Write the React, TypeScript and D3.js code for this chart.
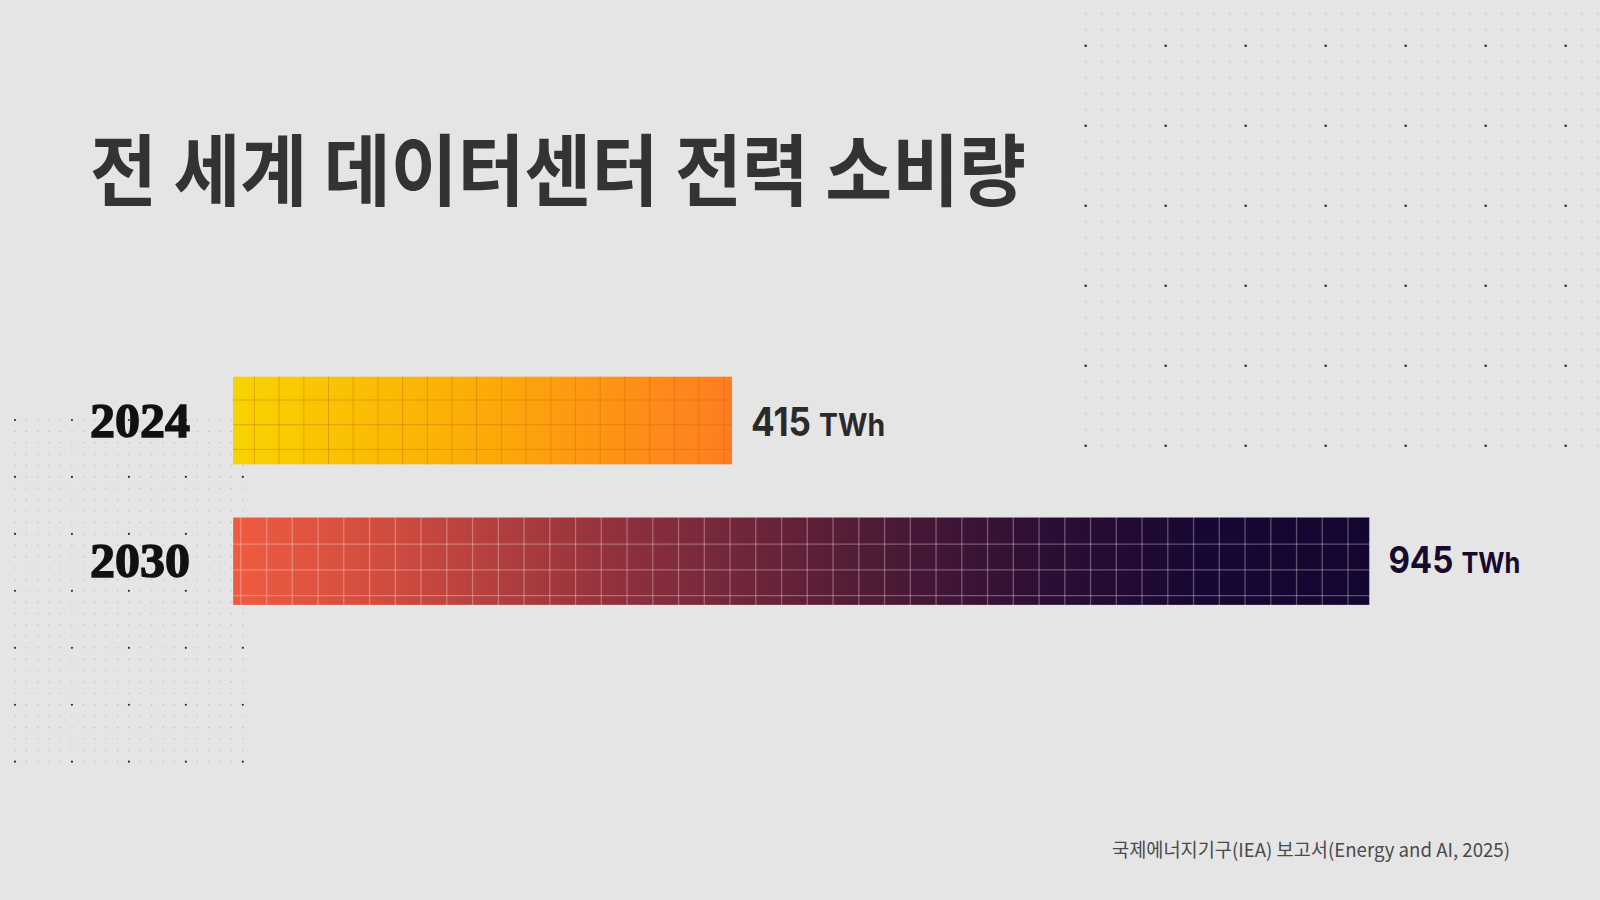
import * as d3 from "d3";

// chart data
const years = ["2024", "2030"];
const values = [415, 945];
const unit = "TWh";
const title = "전 세계 데이터센터 전력 소비량";
const source = "국제에너지기구(IEA) 보고서(Energy and AI, 2025)";

const W = 1600;
const H = 900;

// per-row look (not data)
const barStyles = [
  {
    id: "g2024",
    stops: [
      [0, "#f8d300"],
      [0.5, "#fcab08"],
      [1, "#ff7d22"],
    ],
    grid: "rgba(205,110,0,0.45)",
    gridWidth: 1,
    cell: 24.7,
    offX: 21.4,
    offY: 23.3,
    labelColor: "#2a2a2a",
    numSize: 39,
    numLen: 60,
    unitSize: 31,
    unitLen: 66,
  },
  {
    id: "g2030",
    stops: [
      [0, "#ef5b40"],
      [0.15, "#cc4a3f"],
      [0.35, "#8c2f3d"],
      [0.55, "#521c37"],
      [0.72, "#2b0e34"],
      [0.85, "#180733"],
      [1, "#130630"],
    ],
    grid: "rgba(255,235,240,0.32)",
    gridWidth: 1.3,
    cell: 25.75,
    offX: 7.8,
    offY: 26.7,
    labelColor: "#170a2e",
    numSize: 37,
    numLen: 65,
    unitSize: 28,
    unitLen: 59,
  },
];

function DotField({ x0, y0, step, cols, rows, bigEveryX, bigOffX, bigEveryY, bigOffY, bigR, smallR }) {
  const dots = [];
  d3.range(rows).forEach((r) => {
    d3.range(cols).forEach((c) => {
      const big = (c - bigOffX) % bigEveryX === 0 && c >= bigOffX && (r - bigOffY) % bigEveryY === 0 && r >= bigOffY;
      dots.push(
        <circle
          key={`${r}-${c}`}
          cx={x0 + c * step}
          cy={y0 + r * step}
          r={big ? bigR : smallR}
          fill={big ? "#2e2e2e" : "#bdbdbd"}
        />
      );
    });
  });
  return <g>{dots}</g>;
}

export default function App() {
  const x = d3
    .scaleLinear()
    .domain([0, d3.max(values) as number])
    .range([233, 1369.4]);

  const y = d3
    .scaleBand<string>()
    .domain(years)
    .range([376.7, 605])
    .paddingInner(0.377)
    .paddingOuter(0);

  const bh = y.bandwidth();

  return (
    <svg
      width={W}
      height={H}
      style={{ position: "fixed", left: 0, top: 0, display: "block" }}
    >
      <defs>
        {barStyles.map((s) => (
          <linearGradient key={s.id} id={s.id} x1="0" x2="1" y1="0" y2="0">
            {s.stops.map(([o, c]) => (
              <stop key={o as number} offset={o as number} stopColor={c as string} />
            ))}
          </linearGradient>
        ))}
      </defs>
      <rect width={W} height={H} fill="#e5e5e5" />

      {/* background dot grids */}
      <DotField x0={1085.7} y0={13.7} step={16} cols={33} rows={28} bigEveryX={5} bigOffX={0} bigEveryY={5} bigOffY={2} bigR={1.3} smallR={0.8} />
      <DotField x0={15} y0={420} step={11.39} cols={21} rows={31} bigEveryX={5} bigOffX={0} bigEveryY={5} bigOffY={0} bigR={1.1} smallR={0.7} />

      {/* title */}
      <text
        x={90}
        y={200}
        textLength={936}
        lengthAdjust="spacingAndGlyphs"
        fontFamily="'Noto Sans CJK KR', 'Noto Sans', sans-serif"
        fontWeight={700}
        fontSize={78}
        fill="#333333"
      >
        {title}
      </text>

      {/* bars */}
      {years.map((yr, i) => {
        const s = barStyles[i];
        const y0 = y(yr) as number;
        const x0 = x(0);
        const x1 = x(values[i]);
        const vLines = d3.range(x0 + s.offX, x1 - 1, s.cell);
        const hLines = d3.range(y0 + s.offY, y0 + bh - 1, s.cell);
        const cy = y0 + bh / 2;
        const lx = x1 + 19;
        return (
          <g key={yr}>
            <rect x={x0} y={y0} width={x1 - x0} height={bh} fill={`url(#${s.id})`} />
            {vLines.map((vx) => (
              <line key={`v${vx}`} x1={vx} x2={vx} y1={y0} y2={y0 + bh} stroke={s.grid} strokeWidth={s.gridWidth} />
            ))}
            {hLines.map((hy) => (
              <line key={`h${hy}`} x1={x0} x2={x1} y1={hy} y2={hy} stroke={s.grid} strokeWidth={s.gridWidth} />
            ))}
            {i === 1 && (
              <rect x={x0} y={y0} width={x1 - x0} height={bh} fill="none" stroke="rgba(255,230,235,0.25)" strokeWidth={1} />
            )}

            {/* year label */}
            <text
              x={90}
              y={cy + 16}
              textLength={100}
              lengthAdjust="spacingAndGlyphs"
              fontFamily="'Liberation Serif', 'DejaVu Serif', serif"
              fontWeight={700}
              fontSize={48}
              fill="#111111"
              stroke="#111111"
              strokeWidth={1.4}
            >
              {yr}
            </text>

            {/* value label */}
            <text
              x={lx}
              y={cy + (i === 0 ? 15.3 : 12.3)}
              textLength={s.numLen}
              lengthAdjust="spacingAndGlyphs"
              fontFamily="Inter, 'Noto Sans', sans-serif"
              fontWeight={700}
              fontSize={s.numSize}
              fill={s.labelColor}
            >
              {values[i]}
            </text>
            <text
              x={lx + s.numLen + 8}
              y={cy + (i === 0 ? 15.3 : 12.3)}
              textLength={s.unitLen}
              lengthAdjust="spacingAndGlyphs"
              fontFamily="Inter, 'Noto Sans', sans-serif"
              fontWeight={700}
              fontSize={s.unitSize}
              fill={s.labelColor}
            >
              {unit}
            </text>
          </g>
        );
      })}

      {/* source */}
      <text
        x={1510}
        y={856.5}
        textAnchor="end"
        textLength={398}
        lengthAdjust="spacingAndGlyphs"
        fontFamily="'Noto Sans CJK KR', 'Noto Sans', sans-serif"
        fontSize={19}
        fill="#4a4a4a"
      >
        {source}
      </text>
    </svg>
  );
}
